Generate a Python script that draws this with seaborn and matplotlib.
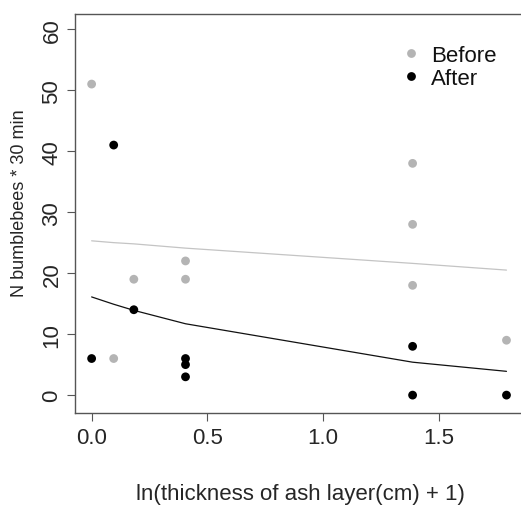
import numpy as np
import pandas as pd
import matplotlib
matplotlib.use("Agg")
import matplotlib.pyplot as plt
import seaborn as sns

# ln(thickness + 1) for each site, counts before and after the ash fall
x_before = [0.0, 0.0953, 0.1823, 0.4055, 0.4055, 1.3863, 1.3863, 1.3863, 1.7918]
y_before = [51, 6, 19, 22, 19, 38, 28, 18, 9]
x_after = [0.0, 0.0953, 0.1823, 0.4055, 0.4055, 0.4055, 1.3863, 1.3863, 1.7918]
y_after = [6, 41, 14, 6, 5, 3, 8, 0, 0]

# fitted values at the unique x values
x_fit = [0.0, 0.0953, 0.1823, 0.4055, 1.3863, 1.7918]
fit_before = [25.3, 25.0, 24.8, 24.1, 21.6, 20.5]
fit_after = [16.1, 14.9, 13.9, 11.7, 5.4, 3.9]

df = pd.DataFrame({
    "x": x_before + x_after,
    "y": y_before + y_after,
    "group": ["Before"] * len(x_before) + ["After"] * len(x_after),
})
df_fit = pd.DataFrame({
    "x": x_fit + x_fit,
    "y": fit_before + fit_after,
    "group": ["Before"] * len(x_fit) + ["After"] * len(x_fit),
})

sns.set_style("ticks")
plt.rcParams["font.family"] = ["Liberation Sans", "DejaVu Sans"]

fig = plt.figure(figsize=(5.21, 5.06), dpi=100)
ax = fig.add_axes([0.144, 0.181, 0.86, 0.789])

sns.lineplot(data=df_fit, x="x", y="y", hue="group",
             palette={"Before": "#c4c4c4", "After": "#111111"},
             linewidth=0.9, legend=False, ax=ax)
sns.scatterplot(data=df, x="x", y="y", hue="group",
                palette={"Before": "#b4b4b4", "After": "#000000"},
                s=40, edgecolor="none", ax=ax, zorder=3)

ax.set_xlim(-0.0717, 1.8635)
ax.set_ylim(-3.0, 62.46)
ax.set_xticks([0.0, 0.5, 1.0, 1.5])
ax.set_xticklabels(["0.0", "0.5", "1.0", "1.5"])
ax.set_yticks([0, 10, 20, 30, 40, 50, 60])
ax.set_yticklabels(["0", "10", "20", "30", "40", "50", "60"], rotation=90, va="center")
ax.tick_params(axis="both", labelsize=16, length=6, width=0.8, color="#555555",
               direction="out")
ax.tick_params(axis="x", pad=4)
ax.tick_params(axis="y", pad=3)
for sp in ax.spines.values():
    sp.set_color("#555555")
    sp.set_linewidth(1.0)

ax.set_xlabel("")
ax.set_ylabel("")
fig.text(20 / 521, 1 - 203 / 506, "N bumblebees * 30 min", fontsize=13,
         rotation=90, ha="center", va="center")
fig.text(300 / 521, 0.022, "ln(thickness of ash layer(cm) + 1)", fontsize=16,
         ha="center", va="center")

leg = ax.legend(loc="upper left", bbox_to_anchor=(0.705, 0.945), frameon=False,
                fontsize=16, handlelength=1.0, handletextpad=0.4,
                labelspacing=0.1, markerscale=1.0, borderaxespad=0)
for t in leg.get_texts():
    t.set_color("#111111")

fig.savefig("out.png", dpi=100, facecolor="white")
